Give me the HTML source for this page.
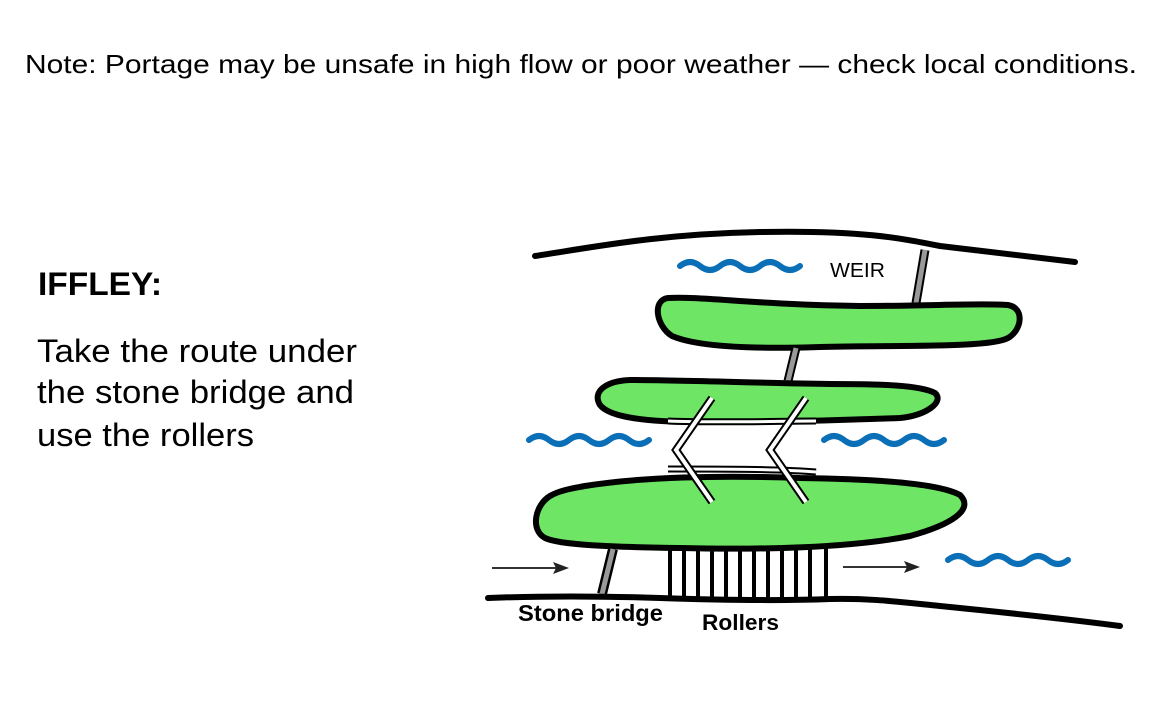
<!DOCTYPE html>
<html><head><meta charset="utf-8"><style>
html,body{margin:0;padding:0;background:#fff;}
svg{display:block;}
</style></head><body>
<svg width="1161" height="710" viewBox="0 0 1161 710" xmlns="http://www.w3.org/2000/svg" font-family="Liberation Sans, Arial, sans-serif">
<rect width="1161" height="710" fill="#fff"/>
<text x="25" y="73" font-size="26" textLength="1112" lengthAdjust="spacingAndGlyphs">Note: Portage may be unsafe in high flow or poor weather — check local conditions.</text>
<text x="38" y="295" font-size="32" font-weight="bold" textLength="124" lengthAdjust="spacingAndGlyphs">IFFLEY:</text>
<text x="37" y="362" font-size="32" textLength="320" lengthAdjust="spacingAndGlyphs">Take the route under</text>
<text x="37" y="403" font-size="32" textLength="317" lengthAdjust="spacingAndGlyphs">the stone bridge and</text>
<text x="37" y="446" font-size="32" textLength="217" lengthAdjust="spacingAndGlyphs">use the rollers</text>

<path d="M535,256 C600,246 660,234 760,232 C860,230 900,238 940,246 C990,252 1040,258 1075,262" fill="none" stroke="#000" stroke-width="6" stroke-linecap="round"/>
<line x1="925" y1="250" x2="916" y2="303" stroke="#000" stroke-width="9"/>
<line x1="925" y1="250" x2="916" y2="303" stroke="#999" stroke-width="5"/>
<text x="830" y="277" font-size="20" textLength="55" lengthAdjust="spacingAndGlyphs">WEIR</text>

<g fill="none" stroke="#0b6fb8" stroke-width="6" stroke-linecap="round">
<path d="M680,266 q10,-8 20,0 t20,0 t20,0 t20,0 t20,0 t20,0"/>
<path d="M529,440 q10,-8 20,0 t20,0 t20,0 t20,0 t20,0 t20,0"/>
<path d="M824,440 q10,-8 20,0 t20,0 t20,0 t20,0 t20,0 t20,0"/>
<path d="M948,560 q10,-8 20,0 t20,0 t20,0 t20,0 t20,0 t20,0"/>
</g>

<path d="M668,298 C700,296 760,305 860,306 C930,306 980,303 1008,305 C1025,308 1022,330 1008,338 C990,348 900,345 820,347 C760,349 700,348 672,336 C656,326 652,300 668,298 Z" fill="#6ee565" stroke="#000" stroke-width="6"/>
<line x1="796" y1="348" x2="788" y2="381" stroke="#000" stroke-width="9"/>
<line x1="796" y1="348" x2="788" y2="381" stroke="#999" stroke-width="5"/>
<path d="M630,380 C680,380 760,383 830,384 C880,384 920,385 935,393 C945,402 925,416 900,418 C850,420 780,422 700,422 C650,422 610,418 600,405 C592,392 605,381 630,380 Z" fill="#6ee565" stroke="#000" stroke-width="6"/>

<g>
<path d="M668,421 C720,423 780,421 816,421" stroke="#000" stroke-width="7" fill="none"/>
<path d="M668,421 C720,423 780,421 816,421" stroke="#fff" stroke-width="3" fill="none"/>
<path d="M668,469 C720,469 780,469 816,472" stroke="#000" stroke-width="7" fill="none"/>
<path d="M668,469 C720,469 780,469 816,472" stroke="#fff" stroke-width="3" fill="none"/>
</g>

<path d="M585,486 C640,477 720,475 800,478 C880,479 940,484 960,495 C975,510 950,525 910,536 C850,548 760,550 680,548 C610,547 560,545 545,538 C530,530 535,505 550,496 C560,490 575,488 585,486 Z" fill="#6ee565" stroke="#000" stroke-width="6"/>

<g fill="none" stroke-linejoin="miter">
<path d="M712,398 L676,450 L712,502" stroke="#000" stroke-width="8"/>
<path d="M712,398 L676,450 L712,502" stroke="#fff" stroke-width="4"/>
<path d="M806,398 L770,450 L806,502" stroke="#000" stroke-width="8"/>
<path d="M806,398 L770,450 L806,502" stroke="#fff" stroke-width="4"/>
</g>

<line x1="613" y1="549" x2="602" y2="594" stroke="#000" stroke-width="10"/>
<line x1="613" y1="549" x2="602" y2="594" stroke="#999" stroke-width="5"/>

<g stroke="#000" stroke-width="4">
<line x1="670" y1="548" x2="670" y2="598"/><line x1="684" y1="548" x2="684" y2="598"/>
<line x1="698" y1="548" x2="698" y2="598"/><line x1="712" y1="548" x2="712" y2="598"/>
<line x1="726" y1="548" x2="726" y2="598"/><line x1="740" y1="548" x2="740" y2="598"/>
<line x1="754" y1="548" x2="754" y2="598"/><line x1="768" y1="548" x2="768" y2="598"/>
<line x1="782" y1="548" x2="782" y2="598"/><line x1="796" y1="548" x2="796" y2="598"/>
<line x1="810" y1="548" x2="810" y2="598"/><line x1="826" y1="548" x2="826" y2="598"/>
</g>

<g stroke="#333" stroke-width="2">
<line x1="492" y1="568" x2="560" y2="568"/>
<line x1="843" y1="567" x2="910" y2="567"/>
</g>
<path d="M569,568 L553,562 L556,568 L553,574 Z" fill="#222"/>
<path d="M920,567 L904,561 L907,567 L904,573 Z" fill="#222"/>

<path d="M488,598 C540,596 600,596 660,598 C720,600 780,601 830,599 C870,598 900,602 940,606 C1000,612 1060,618 1120,626" fill="none" stroke="#000" stroke-width="6" stroke-linecap="round"/>

<text x="518" y="621" font-size="23" font-weight="bold" textLength="145" lengthAdjust="spacingAndGlyphs">Stone bridge</text>
<text x="702" y="630" font-size="22.5" font-weight="bold" textLength="77" lengthAdjust="spacingAndGlyphs">Rollers</text>
</svg>
</body></html>
